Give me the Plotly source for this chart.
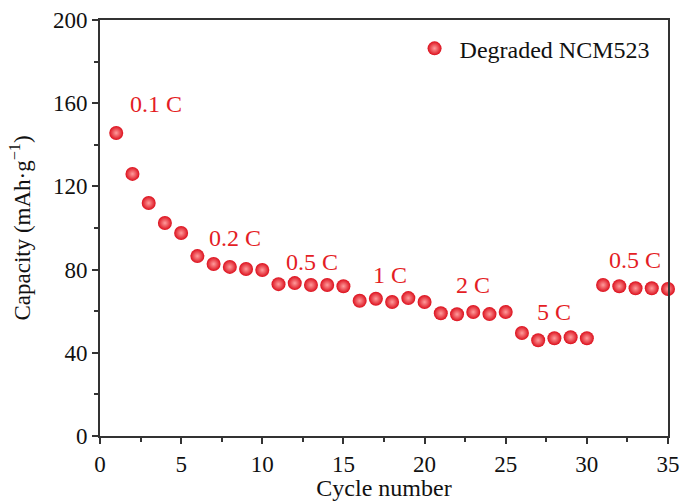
import plotly.graph_objects as go

cycles = list(range(1, 36))
capacity = [145.7, 126.0, 112.0, 102.4, 97.6,
            86.5, 82.7, 81.3, 80.3, 79.8,
            73.0, 73.5, 72.6, 72.6, 72.0,
            65.0, 66.0, 64.4, 66.3, 64.4,
            59.0, 58.5, 59.6, 58.6, 59.6,
            49.5, 46.0, 47.0, 47.5, 47.0,
            72.6, 72.0, 71.0, 71.0, 70.7]
rate_labels = ["0.1 C", "0.2 C", "0.5 C", "1 C", "2 C", "5 C", "0.5 C"]
rate_x = [3.45, 8.32, 13.06, 17.87, 22.98, 27.97, 32.97]
rate_y = [159.6, 95.2, 83.7, 77.4, 72.6, 59.6, 84.6]

red = "#e41d25"
font = "Liberation Serif"

fig = go.Figure()
fig.add_trace(go.Scatter(
    x=cycles, y=capacity, mode="markers", name="Degraded NCM523",
    marker=dict(size=14, color="#dc0f1c",
                gradient=dict(type="radial", color="#ff9c9c"),
                line=dict(width=0)),
    cliponaxis=False,
))

for t, x, y in zip(rate_labels, rate_x, rate_y):
    fig.add_annotation(x=x, y=y, text=t, showarrow=False,
                       font=dict(family=font, size=24, color=red))

axis_common = dict(
    showline=True, linecolor="#333333", linewidth=2, mirror=True,
    ticks="outside", ticklen=6, tickwidth=1.5, tickcolor="#333333",
    showgrid=False, zeroline=False, automargin=False,
    tickfont=dict(family=font, size=23, color="#111111"),
)
fig.update_xaxes(range=[0, 35], tickvals=[0, 5, 10, 15, 20, 25, 30, 35],
                 minor=dict(ticks="outside", ticklen=4, tickcolor="#333333", dtick=2.5, tick0=0),
                 title=dict(text="Cycle number", font=dict(family=font, size=24, color="#111111"), standoff=2),
                 **axis_common)
fig.update_yaxes(range=[0, 200], tickvals=[0, 40, 80, 120, 160, 200],
                 minor=dict(ticks="outside", ticklen=4, tickcolor="#333333", dtick=20, tick0=0),
                 title=dict(text="Capacity (mAh·g<sup>−1</sup>)", font=dict(family=font, size=23, color="#111111"), standoff=16),
                 **axis_common)

fig.update_layout(
    width=680, height=501,
    margin=dict(l=100, r=12, t=20, b=65),
    plot_bgcolor="white", paper_bgcolor="white",
    showlegend=True,
    legend=dict(x=0.545, y=0.985, xanchor="left", yanchor="top",
                font=dict(family=font, size=24, color="#111111"),
                bgcolor="rgba(0,0,0,0)", itemwidth=40),
)

fig.write_html("out.html")
